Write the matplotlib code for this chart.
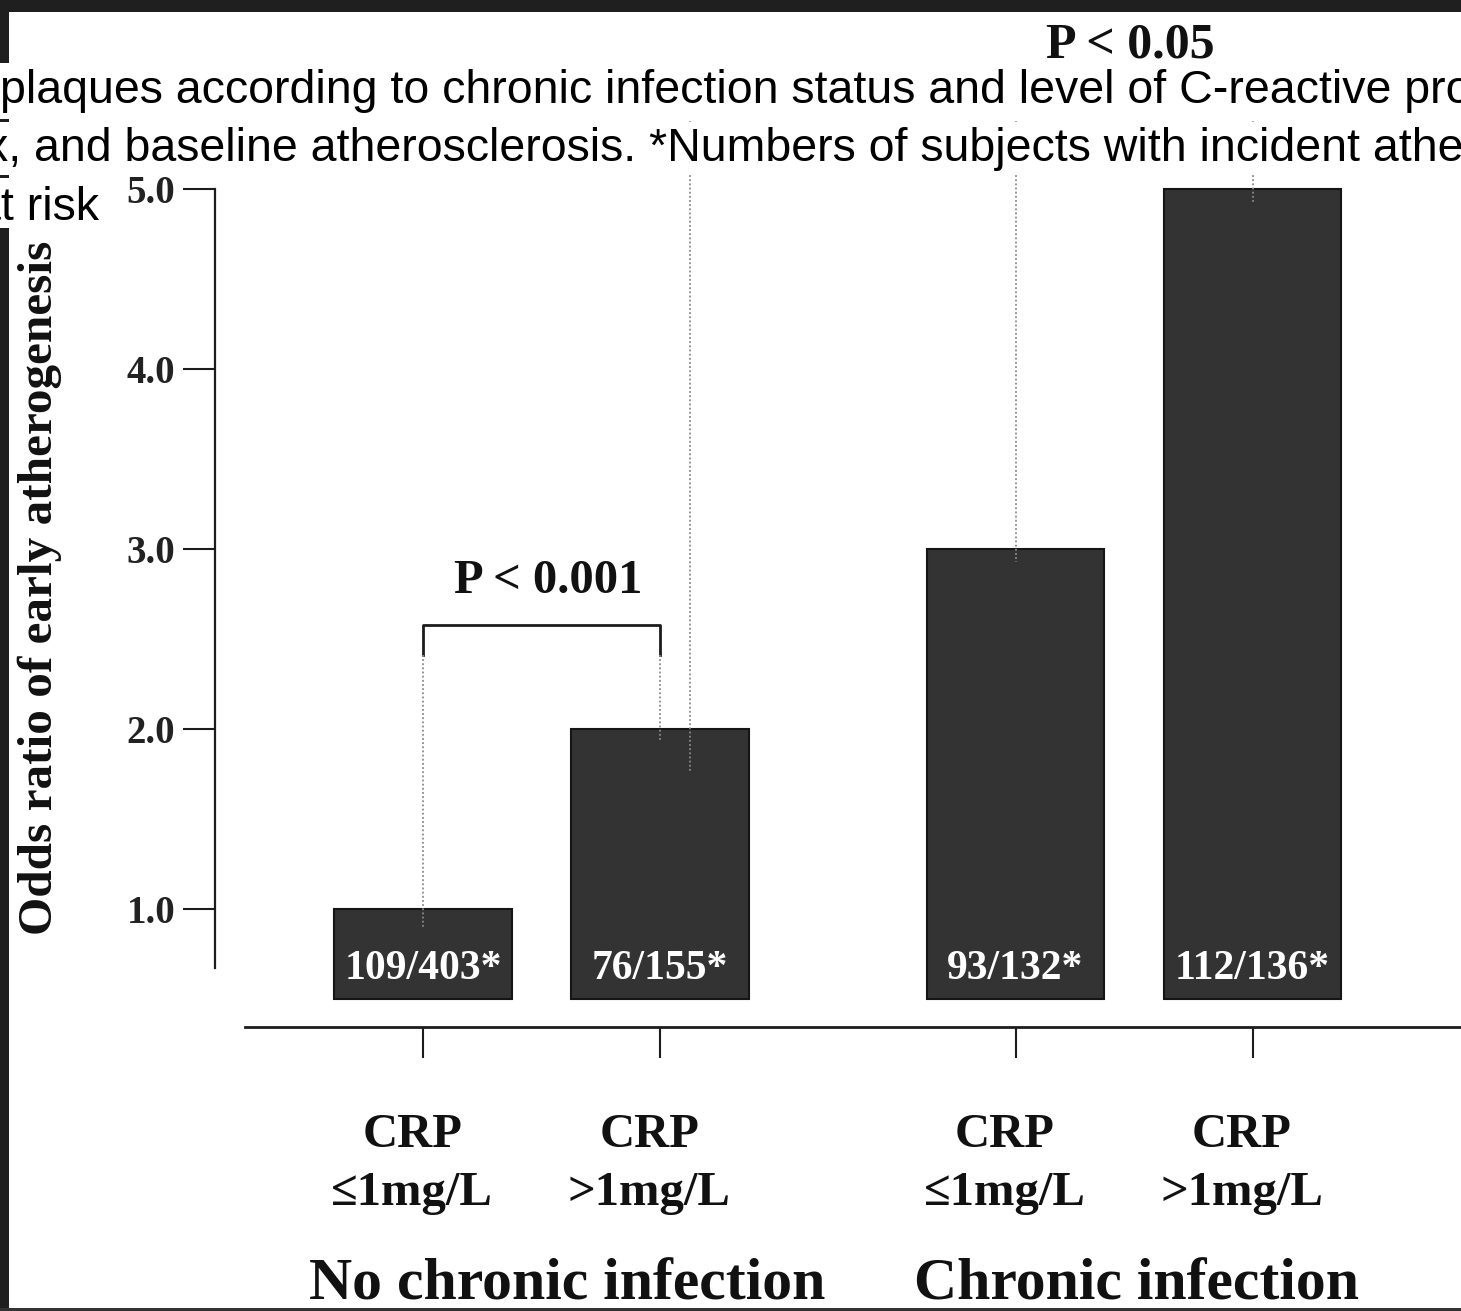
import numpy as np
import matplotlib.pyplot as plt
from matplotlib.patches import Rectangle

# chart values
groups = ["No chronic infection", "Chronic infection"]
group_x = [0.61, 3.01]
crp_name = ["CRP", "CRP", "CRP", "CRP"]
crp_level = ["≤1mg/L", ">1mg/L", "≤1mg/L", ">1mg/L"]
positions = [0, 1, 2.5, 3.5]
odds_ratio = [1.0, 2.0, 3.0, 5.0]
counts = ["109/403*", "76/155*", "93/132*", "112/136*"]
yticks = [1.0, 2.0, 3.0, 4.0, 5.0]

caption = [
    "plaques according to chronic infection status and level of C-reactive protein",
    "x, and baseline atherosclerosis. *Numbers of subjects with incident atherosclerosis",
    "at risk",
]

W, H = 1461, 1311
serif = ["Liberation Serif", "DejaVu Serif"]
sans = ["Liberation Sans", "DejaVu Sans"]
ink = "#1c1c1c"


def fx(px):
    return px / W


def fy(py):
    return 1 - py / H


fig = plt.figure(figsize=(W / 100, H / 100), dpi=100, facecolor="white")

# axes laid out so that 1 unit of odds ratio = 180 px
ax = fig.add_axes([fx(215), 0, 1 - fx(215), 1])
ax.set_facecolor("none")
ax.set_xlim((215 - 423) / 237, (1461 - 423) / 237)
ax.set_ylim(1 - 402 / 180, 1 + 909 / 180)

for s in ["top", "right"]:
    ax.spines[s].set_visible(False)
ax.spines["left"].set_bounds(0.67, 5.0)
ax.spines["left"].set_color(ink)
ax.spines["left"].set_linewidth(1.6)
ax.spines["bottom"].set_position(("data", 0.344))
ax.spines["bottom"].set_bounds((245 - 423) / 237, (1461 - 423) / 237)
ax.spines["bottom"].set_color(ink)
ax.spines["bottom"].set_linewidth(2.0)

ax.set_yticks(yticks)
ax.set_yticklabels([f"{v:.1f}" for v in yticks], family=serif,
                   fontweight="bold", fontsize=28, color="#222")
ax.tick_params(axis="y", direction="out", length=23, width=1.5,
               color=ink, pad=5.5)
ax.set_xticks(positions)
ax.set_xticklabels([])
ax.tick_params(axis="x", direction="out", length=22, width=1.5, color=ink)

# bars start at 0.5
base = 0.5
ax.bar(positions, np.array(odds_ratio) - base, bottom=base, width=0.75,
       color="#333333", edgecolor="#151515", linewidth=1.5, zorder=3)

for x, c in zip(positions, counts):
    ax.text(x, 0.611, c, ha="center", va="baseline", color="white",
            family=serif, fontweight="bold", fontsize=30, zorder=5)

# dotted guide lines
dot = dict(color="#8a8a8a", linestyle=(0, (1, 1.3)), linewidth=1.3, zorder=4)
ax.plot([positions[0]] * 2, [2.41, 0.9], **dot)
ax.plot([positions[1]] * 2, [2.41, 1.94], **dot)
ax.plot([1.127] * 2, [5.4, 1.76], **dot)
ax.plot([positions[2]] * 2, [5.4, 2.93], **dot)
ax.plot([positions[3]] * 2, [5.4, 4.93], **dot)

# significance bracket
ax.plot([positions[0], positions[0], positions[1], positions[1]],
        [2.41, 2.578, 2.578, 2.41], color=ink, linewidth=2)
ax.text(0.527, 2.756, "P < 0.001", ha="center", va="baseline",
        family=serif, fontweight="bold", fontsize=35, color="#111")
ax.text(2.983, 5.733, "P < 0.05", ha="center", va="baseline",
        family=serif, fontweight="bold", fontsize=36, color="#111")

# category labels
for x, a, b in zip(positions, crp_name, crp_level):
    ax.text(x - 0.045, -0.322, a, ha="center", va="baseline",
            family=serif, fontweight="bold", fontsize=35, color="#111")
    ax.text(x - 0.045, -0.644, b, ha="center", va="baseline",
            family=serif, fontweight="bold", fontsize=35, color="#111")
for x, g in zip(group_x, groups):
    ax.text(x, -1.172, g, ha="center", va="baseline",
            family=serif, fontweight="bold", fontsize=43, color="#111")

fig.text(fx(40), fy(935), "Odds ratio of early atherogenesis", rotation=90,
         ha="center", va="bottom", family=serif, fontweight="bold",
         fontsize=35.5, color="#111", zorder=0.5)

# scan frame
fig.patches.append(Rectangle((0, fy(12)), 1, 12 / H, transform=fig.transFigure,
                             facecolor="#1f1f1f", edgecolor="none", zorder=1))
fig.patches.append(Rectangle((0, 0), fx(9), 1, transform=fig.transFigure,
                             facecolor="#1f1f1f", edgecolor="none", zorder=1))
fig.patches.append(Rectangle((0, 0), 1, 3 / H, transform=fig.transFigure,
                             facecolor="#333333", edgecolor="none", zorder=1))

# caption overlay, one white strip per line
boxes = [(0, 63, W, 119), (0, 122, W, 175), (0, 178, 100, 228)]
for x0, y0, x1, y1 in boxes:
    fig.patches.append(Rectangle((fx(x0), fy(y1)), fx(x1 - x0), (y1 - y0) / H,
                                 transform=fig.transFigure, facecolor="white",
                                 edgecolor="none", zorder=2))
starts = [0, -15, -25]
baselines = [103, 161, 220]
for line, x0, b in zip(caption, starts, baselines):
    fig.text(fx(x0), fy(b), line, ha="left", va="baseline", family=sans,
             fontsize=33.5, color="black", zorder=3)

fig.savefig("out.png", dpi=100, facecolor="white")
